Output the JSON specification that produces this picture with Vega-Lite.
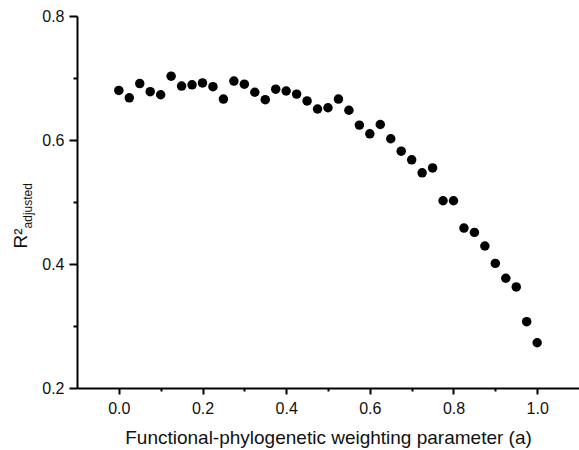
{
  "$schema": "https://vega.github.io/schema/vega-lite/v6.json",
  "width": 502,
  "height": 372,
  "autosize": {"type": "none"},
  "padding": {"left": 77, "top": 16, "right": 0, "bottom": 62},
  "background": "white",
  "config": {
    "view": {"stroke": null},
    "font": "Liberation Sans",
    "axis": {
      "domainColor": "#000000",
      "domainWidth": 2,
      "tickColor": "#000000",
      "tickWidth": 2,
      "labelColor": "#111111",
      "labelFont": "Liberation Sans",
      "labelFontSize": 16,
      "titleFont": "Liberation Sans",
      "titleColor": "#111111",
      "titleFontWeight": "normal",
      "grid": false
    }
  },
  "layer": [
    {
      "data": {
        "values": [
          {"a": 0.0, "r2": 0.680},
          {"a": 0.025, "r2": 0.668},
          {"a": 0.05, "r2": 0.691},
          {"a": 0.075, "r2": 0.678},
          {"a": 0.1, "r2": 0.673},
          {"a": 0.125, "r2": 0.703},
          {"a": 0.15, "r2": 0.687},
          {"a": 0.175, "r2": 0.689},
          {"a": 0.2, "r2": 0.692},
          {"a": 0.225, "r2": 0.686},
          {"a": 0.25, "r2": 0.666},
          {"a": 0.275, "r2": 0.695},
          {"a": 0.3, "r2": 0.690},
          {"a": 0.325, "r2": 0.677},
          {"a": 0.35, "r2": 0.665},
          {"a": 0.375, "r2": 0.682},
          {"a": 0.4, "r2": 0.679},
          {"a": 0.425, "r2": 0.674},
          {"a": 0.45, "r2": 0.663},
          {"a": 0.475, "r2": 0.650},
          {"a": 0.5, "r2": 0.652},
          {"a": 0.525, "r2": 0.666},
          {"a": 0.55, "r2": 0.648},
          {"a": 0.575, "r2": 0.624},
          {"a": 0.6, "r2": 0.610},
          {"a": 0.625, "r2": 0.625},
          {"a": 0.65, "r2": 0.602},
          {"a": 0.675, "r2": 0.582},
          {"a": 0.7, "r2": 0.568},
          {"a": 0.725, "r2": 0.547},
          {"a": 0.75, "r2": 0.555},
          {"a": 0.775, "r2": 0.502},
          {"a": 0.8, "r2": 0.502},
          {"a": 0.825, "r2": 0.458},
          {"a": 0.85, "r2": 0.451},
          {"a": 0.875, "r2": 0.429},
          {"a": 0.9, "r2": 0.401},
          {"a": 0.925, "r2": 0.377},
          {"a": 0.95, "r2": 0.363},
          {"a": 0.975, "r2": 0.307},
          {"a": 1.0, "r2": 0.273}
        ]
      },
      "mark": {"type": "circle", "size": 90, "color": "#000000", "opacity": 1},
      "encoding": {
        "x": {
          "field": "a",
          "type": "quantitative",
          "scale": {"domain": [-0.1, 1.1], "nice": false, "zero": false},
          "axis": {
            "values": [0, 0.1, 0.2, 0.3, 0.4, 0.5, 0.6, 0.7, 0.8, 0.9, 1.0],
            "ticks": true,
            "tickSize": {"condition": {"test": "round(datum.value*10)%2==0", "value": 6}, "value": 3},
            "labelExpr": "round(datum.value*10)%2==0 ? format(datum.value,'.1f') : ''",
            "labelPadding": 6,
            "title": "Functional-phylogenetic weighting parameter (a)",
            "titleFontSize": 19,
            "titleBaseline": "alphabetic",
            "titleY": 55
          }
        },
        "y": {
          "field": "r2",
          "type": "quantitative",
          "scale": {"domain": [0.2, 0.8], "nice": false, "zero": false},
          "axis": {
            "values": [0.2, 0.3, 0.4, 0.5, 0.6, 0.7, 0.8],
            "ticks": true,
            "tickSize": {"condition": {"test": "round(datum.value*10)%2==0", "value": 8}, "value": 4},
            "labelExpr": "round(datum.value*10)%2==0 ? format(datum.value,'.1f') : ''",
            "labelPadding": 5,
            "title": "R²",
            "titleFontSize": 19,
            "titleAngle": 270,
            "titleAlign": "center",
            "titleBaseline": "alphabetic",
            "titleX": -51,
            "titleY": 222
          }
        }
      }
    },
    {
      "data": {"values": [{"label": "adjusted"}]},
      "mark": {
        "type": "text",
        "angle": 270,
        "align": "center",
        "baseline": "alphabetic",
        "fontSize": 12,
        "font": "Liberation Sans",
        "color": "#111111",
        "dy": -45
      },
      "encoding": {
        "x": {
          "datum": -0.1,
          "type": "quantitative",
          "scale": {"domain": [-0.1, 1.1], "nice": false, "zero": false},
          "axis": {
            "values": [0, 0.1, 0.2, 0.3, 0.4, 0.5, 0.6, 0.7, 0.8, 0.9, 1.0],
            "ticks": true,
            "tickSize": {"condition": {"test": "round(datum.value*10)%2==0", "value": 6}, "value": 3},
            "labelExpr": "round(datum.value*10)%2==0 ? format(datum.value,'.1f') : ''",
            "labelPadding": 6,
            "title": "Functional-phylogenetic weighting parameter (a)",
            "titleFontSize": 19,
            "titleBaseline": "alphabetic",
            "titleY": 55
          }
        },
        "y": {
          "datum": 0.494,
          "type": "quantitative",
          "scale": {"domain": [0.2, 0.8], "nice": false, "zero": false},
          "axis": {
            "values": [0.2, 0.3, 0.4, 0.5, 0.6, 0.7, 0.8],
            "ticks": true,
            "tickSize": {"condition": {"test": "round(datum.value*10)%2==0", "value": 8}, "value": 4},
            "labelExpr": "round(datum.value*10)%2==0 ? format(datum.value,'.1f') : ''",
            "labelPadding": 5,
            "title": "R²",
            "titleFontSize": 19,
            "titleAngle": 270,
            "titleAlign": "center",
            "titleBaseline": "alphabetic",
            "titleX": -51,
            "titleY": 222
          }
        },
        "text": {"field": "label", "type": "nominal"}
      }
    }
  ]
}
